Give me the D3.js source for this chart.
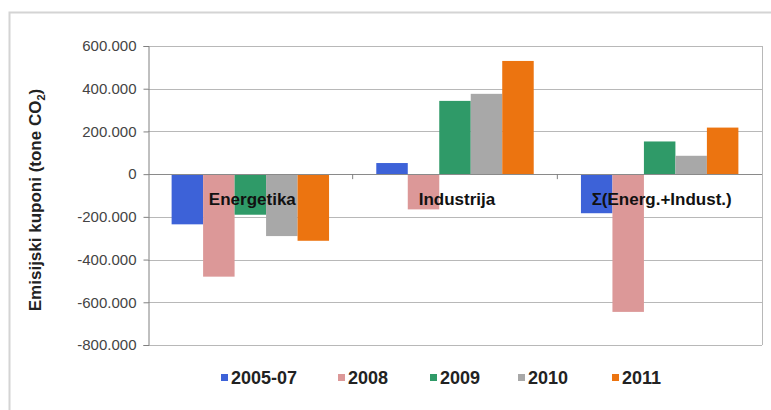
<!DOCTYPE html>
<html>
  <head>
    <meta charset="utf-8">
    <script src='https://d3js.org/d3.v7.min.js'></script>
    <style>
      body { margin: 0; background: #fff; }
      text { font-family: "Liberation Sans", Arial, sans-serif; }
    </style>
  </head>
  <body>
  <script>

    // data (tone CO2)
    var categories = ['Energetika', 'Industrija', 'Σ(Energ.+Indust.)'];
    var seriesNames = ['2005-07', '2008', '2009', '2010', '2011'];
    var v2005 = [-235000, 52000, -183000];
    var v2008 = [-480000, -165000, -645000];
    var v2009 = [-190000, 343000, 153000];
    var v2010 = [-290000, 376000, 86000];
    var v2011 = [-312000, 530000, 218000];
    var yTicks = [600000, 400000, 200000, 0, -200000, -400000, -600000, -800000];
    var colors = ['#3d62d8', '#dc9898', '#2f9a68', '#a8a8a8', '#ec7410'];

    var series = [v2005, v2008, v2009, v2010, v2011];
    var width = 771, height = 410;
    var m = {left: 148, right: 762, top: 46, bottom: 345};

    var svg = d3.select('body').append('svg')
      .attr('width', width)
      .attr('height', height);

    // outer chart frame
    svg.append('rect')
      .attr('x', 9.5).attr('y', 12.5)
      .attr('width', 800).attr('height', 450)
      .attr('fill', 'none').attr('stroke', '#d4d4d4').attr('stroke-width', 2);

    var y = d3.scaleLinear().domain([-800000, 600000]).range([m.bottom, m.top]);
    var x0 = d3.scaleBand().domain(categories).range([m.left, m.right]).paddingInner(0).paddingOuter(0);
    var x1 = d3.scaleBand().domain(seriesNames).range([0, x0.bandwidth()]).paddingOuter(0.75).paddingInner(0);

    // gridlines
    svg.append('g').selectAll('line')
      .data(yTicks)
      .enter().append('line')
      .attr('x1', m.left).attr('x2', m.right)
      .attr('y1', function(d) { return Math.round(y(d)) + 0.5; })
      .attr('y2', function(d) { return Math.round(y(d)) + 0.5; })
      .attr('stroke', '#b8b8b8');

    // plot frame (right side)
    svg.append('line')
      .attr('x1', m.right + 0.5).attr('x2', m.right + 0.5)
      .attr('y1', m.top).attr('y2', m.bottom)
      .attr('stroke', '#b8b8b8');

    // bars
    var groups = svg.append('g').selectAll('g')
      .data(categories)
      .enter().append('g')
      .attr('transform', function(d) { return 'translate(' + x0(d) + ',0)'; });

    groups.selectAll('rect')
      .data(function(d, i) {
        return seriesNames.map(function(s, j) { return {name: s, value: series[j][i], color: colors[j]}; });
      })
      .enter().append('rect')
      .attr('x', function(d) { return x1(d.name); })
      .attr('width', x1.bandwidth())
      .attr('y', function(d) { return y(Math.max(0, d.value)); })
      .attr('height', function(d) { return Math.abs(y(d.value) - y(0)); })
      .attr('fill', function(d) { return d.color; });

    // y axis
    var fmt = function(d) { return d === 0 ? '0' : d3.format(',')(d).replace(/,/g, '.').replace('−', '-'); };
    var yAxis = svg.append('g')
      .attr('transform', 'translate(' + (m.left + 0.5) + ',0)')
      .call(d3.axisLeft(y).tickValues(yTicks).tickSize(5).tickPadding(7).tickFormat(fmt));
    yAxis.select('.domain').attr('stroke', '#808080');
    yAxis.selectAll('.tick line').attr('stroke', '#808080');
    yAxis.selectAll('.tick text').attr('font-size', 15).attr('fill', '#444');

    // zero axis line
    svg.append('line')
      .attr('x1', m.left).attr('x2', m.right)
      .attr('y1', Math.round(y(0)) + 0.5).attr('y2', Math.round(y(0)) + 0.5)
      .attr('stroke', '#8a8a8a');

    // category separator ticks on the zero line
    svg.append('g').selectAll('line')
      .data(categories.slice(1))
      .enter().append('line')
      .attr('x1', function(d) { return x0(d); })
      .attr('x2', function(d) { return x0(d); })
      .attr('y1', y(0)).attr('y2', y(0) + 5)
      .attr('stroke', '#808080');

    // category labels
    svg.append('g').selectAll('text')
      .data(categories)
      .enter().append('text')
      .attr('x', function(d) { return x0(d) + x0.bandwidth() / 2 + 2; })
      .attr('y', y(0) + 31)
      .attr('text-anchor', 'middle')
      .attr('font-size', 17)
      .attr('font-weight', 'bold')
      .attr('fill', '#111')
      .text(function(d) { return d; });

    // y axis title
    var title = svg.append('text')
      .attr('transform', 'translate(41,' + 200 + ') rotate(-90)')
      .attr('text-anchor', 'middle')
      .attr('font-size', 17)
      .attr('font-weight', 'bold')
      .attr('fill', '#222');
    title.append('tspan').text('Emisijski kuponi (tone CO');
    title.append('tspan').attr('font-size', 11).attr('dy', 4).text('2');
    title.append('tspan').attr('dy', -4).text(')');

    // legend
    var legendX = [221, 338, 430, 518, 612];
    var legend = svg.append('g').selectAll('g')
      .data(seriesNames)
      .enter().append('g')
      .attr('transform', function(d, i) { return 'translate(' + legendX[i] + ',378)'; });
    legend.append('rect')
      .attr('x', 0).attr('y', -4).attr('width', 7).attr('height', 7)
      .attr('fill', function(d, i) { return colors[i]; });
    legend.append('text')
      .attr('x', 10).attr('y', 6)
      .attr('font-size', 18).attr('font-weight', 'bold')
      .attr('fill', '#222')
      .text(function(d) { return d; });

  </script>
  </body>
</html>
